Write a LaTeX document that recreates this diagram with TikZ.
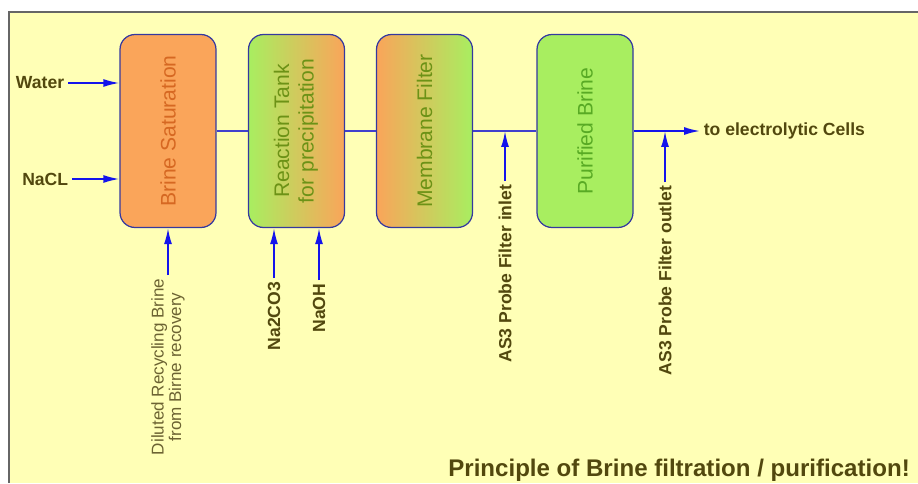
\documentclass[tikz,border=0pt]{standalone}
\usepackage{fontspec}
\setmainfont{Liberation Sans}
\usepackage{graphicx}
\usetikzlibrary{arrows.meta}

\definecolor{bgyellow}{RGB}{255,255,182}
\definecolor{boxorange}{RGB}{250,165,90}
\definecolor{boxgreen}{RGB}{168,238,96}
\definecolor{edgeblue}{RGB}{52,56,160}
\definecolor{lineblue}{RGB}{64,64,205}
\definecolor{flowblue}{RGB}{20,20,235}
\definecolor{labelolive}{RGB}{82,72,14}
\definecolor{txtorange}{RGB}{214,104,34}
\definecolor{txtolive}{RGB}{108,146,22}
\definecolor{txtgreen}{RGB}{88,170,36}

\tikzset{
  unitbox/.style={draw=edgeblue, line width=0.7pt, rounded corners=8.5pt,
    minimum width=1.92cm, minimum height=3.86cm, inner sep=0pt,
    font=\fontsize{12}{14}\selectfont},
  flowlbl/.style={text=labelolive, inner sep=2pt, font=\fontsize{10}{11}\selectfont\bfseries},
  mainline/.style={draw=lineblue, line width=1pt},
  feed/.style={draw=flowblue, line width=1pt, -{Latex[length=3.2mm,width=1.6mm]}}
}

\begin{document}
\begin{tikzpicture}[x=0.02cm, y=-0.02cm]
    % Setup
    \useasboundingbox (0,0) rectangle (918,483);
    \fill[bgyellow] (9,12) rectangle (918,483);
    \draw[gray!80!black, line width=1pt] (9,483) -- (9,12) -- (918,12);

    % Process units
    \node[unitbox, fill=boxorange, text=txtorange] (sat) at (168,131)
        {\rotatebox{90}{Brine Saturation}};
    \node[unitbox, left color=boxgreen, right color=boxorange, text=txtolive] (tank) at (296.5,131)
        {\rotatebox{90}{\begin{tabular}{@{}c@{}}Reaction Tank\\for precipitation\end{tabular}}};
    \node[unitbox, left color=boxorange, right color=boxgreen, text=txtolive] (membrane) at (424.5,131)
        {\rotatebox{90}{Membrane Filter}};
    \node[unitbox, fill=boxgreen, text=txtgreen] (purified) at (585,131)
        {\rotatebox{90}{Purified Brine}};

    % Feeds
    \node[flowlbl, anchor=east] (water) at (68,83) {Water};
    \node[flowlbl, anchor=east] (nacl) at (72,179) {NaCL};
    \node[flowlbl, rotate=90, anchor=east, font=\fontsize{9.7}{10}\selectfont,
        align=center, text=labelolive!85!white] (recycle) at (168,275)
        {Diluted Recycling Brine\\from Birne recovery};
    \node[flowlbl, rotate=90, anchor=east] (na2co3) at (274,278) {Na2CO3};
    \node[flowlbl, rotate=90, anchor=east] (naoh) at (319,280) {NaOH};

    % Probes
    \node[flowlbl, rotate=90, anchor=east] (probein) at (505,181) {AS3 Probe Filter inlet};
    \node[flowlbl, rotate=90, anchor=east] (probeout) at (665,182) {AS3 Probe Filter outlet};
    \node[flowlbl, anchor=west] (cells) at (700,131) {to electrolytic Cells};

    % Title
    \node[anchor=base west, text=labelolive, inner sep=0pt,
        font=\fontsize{13.7}{16}\selectfont\bfseries] (title) at (448,476)
        {Principle of Brine filtration / purification!};

    % Main line
    \draw[mainline] (sat) -- (tank);
    \draw[mainline] (tank) -- (membrane);
    \draw[mainline] (membrane) -- (purified);
    \draw[feed] (purified) -- (cells);

    \draw[feed] (water) -- (water -| sat.west);
    \draw[feed] (nacl) -- (nacl -| sat.west);
    \draw[feed] (recycle.east) -- (sat.south);
    \draw[feed] (na2co3.east) -- (na2co3.east |- tank.south);
    \draw[feed] (naoh.east) -- (naoh.east |- tank.south);
    \draw[feed] (probein.east) -- (probein.east |- membrane);
    \draw[feed] (probeout.east) -- (probeout.east |- purified);
\end{tikzpicture}
\end{document}
